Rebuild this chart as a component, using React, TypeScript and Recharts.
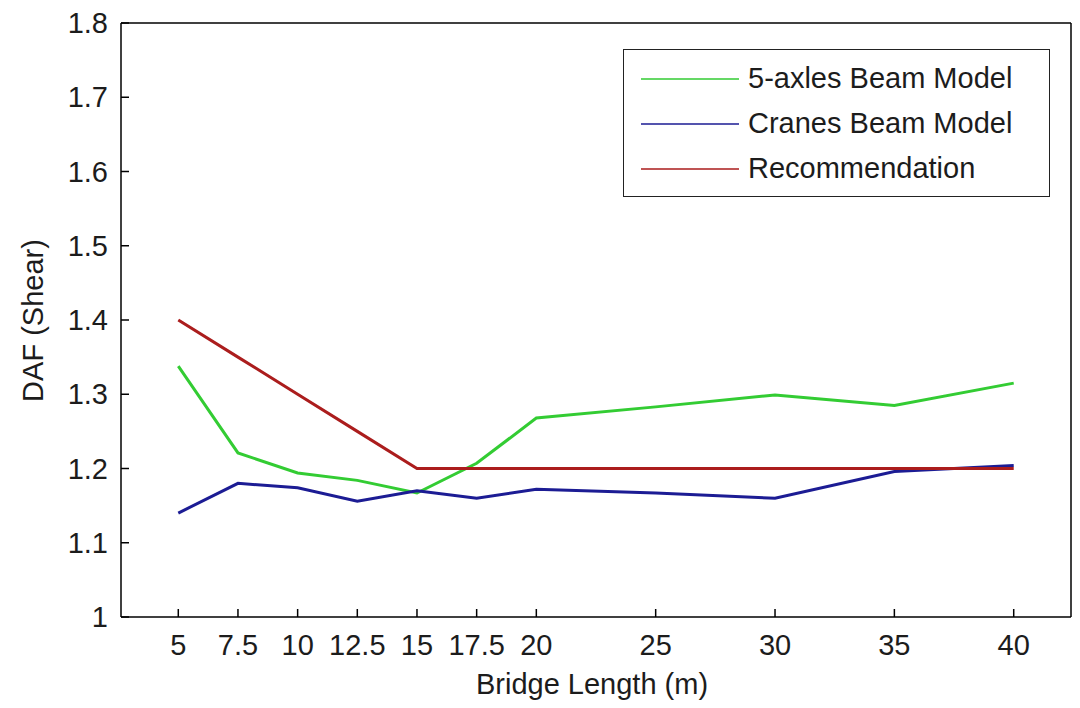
import { LineChart, Line, XAxis, YAxis, ReferenceLine } from "recharts";

const lengths = [5, 7.5, 10, 12.5, 15, 17.5, 20, 25, 30, 35, 40];
const fiveAxles = [1.338, 1.221, 1.194, 1.184, 1.167, 1.207, 1.268, 1.283, 1.299, 1.285, 1.315];
const cranes = [1.14, 1.18, 1.174, 1.156, 1.17, 1.16, 1.172, 1.167, 1.16, 1.196, 1.204];
const recommendation = [1.4, 1.35, 1.3, 1.25, 1.2, 1.2, 1.2, 1.2, 1.2, 1.2, 1.2];

const xTicks = [5, 7.5, 10, 12.5, 15, 17.5, 20, 25, 30, 35, 40];
const yTicks = [1, 1.1, 1.2, 1.3, 1.4, 1.5, 1.6, 1.7, 1.8];
const xDomain = [2.6, 42.4];
const yDomain = [1, 1.8];

const series = [
  { key: "fiveAxles", name: "5-axles Beam Model", color: "#33cc33" },
  { key: "cranes", name: "Cranes Beam Model", color: "#1c1c94" },
  { key: "recommendation", name: "Recommendation", color: "#ab1d1d" },
];

const data = lengths.map((len, i) => ({
  len,
  fiveAxles: fiveAxles[i],
  cranes: cranes[i],
  recommendation: recommendation[i],
}));

// layout
const CHART_W = 1072;
const CHART_H = 692;
const MARGIN = { top: 15, right: 9, bottom: 0, left: 0 };
const Y_AXIS_W = 113;
const X_AXIS_H = 83;
const PLOT_W = CHART_W - MARGIN.left - MARGIN.right - Y_AXIS_W;

const FONT = '"Liberation Sans", Arial, sans-serif';
const INK = "#1c1c1c";
const TICK = 8;
const LW = 1.5;

// labels only; the inward tick marks come from the axis itself (negative tickSize)
const BottomTick = (props: any) => {
  const { x, y, payload } = props;
  return (
    <text x={x} y={y + 38} textAnchor="middle" fontFamily={FONT} fontSize={29} fill={INK}>
      {payload.value}
    </text>
  );
};

const LeftTick = (props: any) => {
  const { x, y, payload } = props;
  return (
    <text x={x - 13} y={y + 10} textAnchor="end" fontFamily={FONT} fontSize={29} fill={INK}>
      {payload.value}
    </text>
  );
};

const textStyle = {
  position: "absolute" as const,
  fontFamily: FONT,
  fontSize: 29,
  lineHeight: "29px",
  color: INK,
  whiteSpace: "nowrap" as const,
};

export default function App() {
  return (
    <div style={{ position: "relative", width: CHART_W, height: CHART_H }}>
      <LineChart width={CHART_W} height={CHART_H} data={data} margin={MARGIN}>
        <XAxis
          dataKey="len"
          type="number"
          domain={xDomain}
          allowDataOverflow
          ticks={xTicks}
          interval={0}
          height={X_AXIS_H}
          tickSize={-TICK}
          tickMargin={TICK}
          tickLine={{ stroke: "#000", strokeWidth: LW }}
          tick={BottomTick}
          axisLine={{ stroke: "#000", strokeWidth: LW }}
        />
        <YAxis
          type="number"
          domain={yDomain}
          allowDataOverflow
          ticks={yTicks}
          interval={0}
          width={Y_AXIS_W}
          tickSize={-TICK}
          tickMargin={TICK}
          tickLine={{ stroke: "#000", strokeWidth: LW }}
          tick={LeftTick}
          axisLine={{ stroke: "#000", strokeWidth: LW }}
        />
        {/* box frame: top and right edges */}
        <ReferenceLine y={yDomain[1]} stroke="#000" strokeWidth={LW} />
        <ReferenceLine x={xDomain[1]} stroke="#000" strokeWidth={LW} />
        {series.map((s) => (
          <Line
            key={s.key}
            name={s.name}
            dataKey={s.key}
            stroke={s.color}
            strokeWidth={3}
            dot={false}
            isAnimationActive={false}
          />
        ))}
      </LineChart>

      {/* axis titles */}
      <div style={{ ...textStyle, left: 0, width: Y_AXIS_W + PLOT_W - 8, top: 662, textAlign: "center" }}>
        <span style={{ position: "relative", left: Y_AXIS_W / 2 }}>Bridge Length (m)</span>
      </div>
      <div
        style={{
          ...textStyle,
          left: 25 - 100,
          top: 312 - 14.5,
          width: 200,
          textAlign: "center",
          transform: "rotate(-90deg)",
        }}
      >
        DAF (Shear)
      </div>

      {/* legend box */}
      <div
        style={{
          position: "absolute",
          left: 615,
          top: 41,
          boxSizing: "border-box",
          width: 427,
          height: 148,
          border: `${LW}px solid #222`,
          background: "#fff",
          paddingTop: 6,
          fontFamily: FONT,
          fontSize: 29,
          color: INK,
        }}
      >
        {series.map((s) => (
          <div key={s.key} style={{ display: "flex", alignItems: "center", height: 45 }}>
            <svg width={124} height={10} style={{ flex: "none" }}>
              <rect x={17} y={4.25} width={98} height={LW} fill={s.color} />
            </svg>
            <span style={{ whiteSpace: "nowrap" }}>{s.name}</span>
          </div>
        ))}
      </div>
    </div>
  );
}
